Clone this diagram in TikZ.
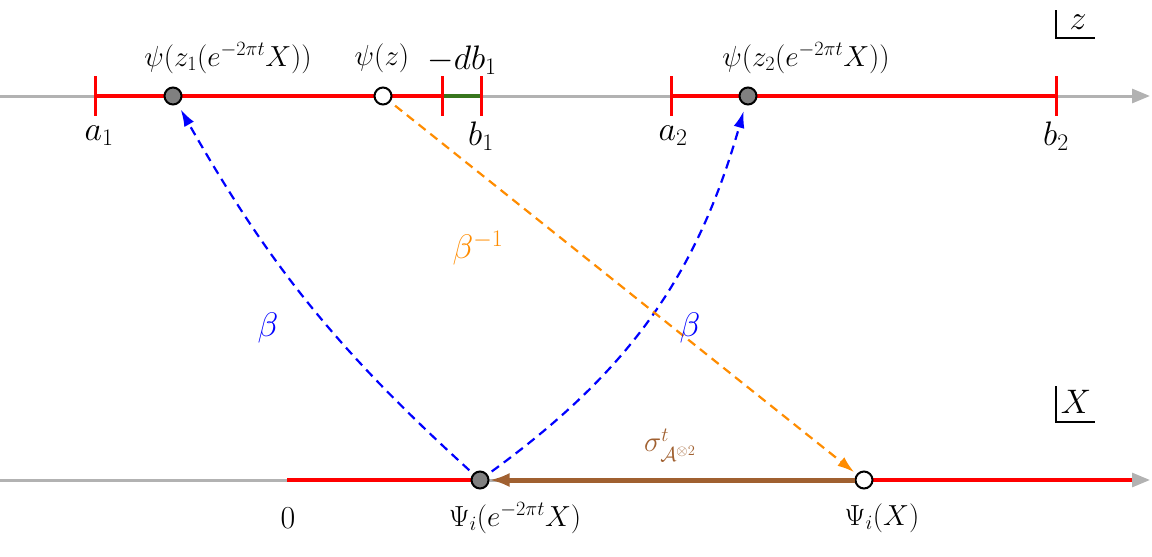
\RequirePackage{fix-cm}
\documentclass[tikz,border=0pt]{standalone}
\usepackage{amsmath,amssymb}
\usetikzlibrary{arrows.meta}
\definecolor{axgray}{RGB}{178,178,178}
\definecolor{segred}{RGB}{255,0,0}
\definecolor{seggreen}{RGB}{56,118,29}
\definecolor{mapblue}{RGB}{0,0,255}
\definecolor{maporange}{RGB}{255,140,0}
\definecolor{mapbrown}{RGB}{160,96,48}
\definecolor{dotgray}{RGB}{128,128,128}
\tikzset{
  axisline/.style={draw=axgray, line width=3pt, -{Triangle[length=18pt,width=14pt]}},
  redseg/.style={draw=segred, line width=4pt},
  greenseg/.style={draw=seggreen, line width=4pt},
  tickmark/.style={draw=segred, line width=3pt},
  filleddot/.style={circle, draw=black, fill=dotgray, line width=2pt, minimum size=17pt, inner sep=0pt},
  opendot/.style={circle, draw=black, fill=white, line width=2pt, minimum size=17pt, inner sep=0pt},
  biglabel/.style={font=\fontsize{34}{40}\selectfont, inner sep=0pt},
  ptlabel/.style={font=\fontsize{29}{34}\selectfont, inner sep=0pt},
  cornerline/.style={draw=black, line width=1.6pt},
  bluemap/.style={draw=mapblue, line width=2.2pt, dash pattern=on 9pt off 6pt, -{Latex[length=17pt,width=11pt]}, shorten <=5pt, shorten >=6pt},
  orangemap/.style={draw=maporange, line width=2.2pt, dash pattern=on 9pt off 6pt, -{Latex[length=17pt,width=11pt]}, shorten <=6pt, shorten >=3pt},
  brownmap/.style={draw=mapbrown, line width=5pt, -{Latex[length=20pt,width=14pt]}},
}
\begin{document}
\begin{tikzpicture}[x=1pt,y=-1pt]
\useasboundingbox (0,0) rectangle (1152,557);
% top axis
\coordinate (tl) at (0,96);
\coordinate (tr) at (1150,96);
\coordinate (a1) at (95,96);
\coordinate (db) at (442,96);
\coordinate (b1) at (481,96);
\coordinate (a2) at (671,96);
\coordinate (b2) at (1056,96);
\coordinate (c1) at (173,96);
\coordinate (cz) at (383,96);
\coordinate (c2) at (748,96);
\draw[axisline] (tl) -- (tr);
\draw[redseg] (a1) -- (db);
\draw[greenseg] (db) -- (b1);
\draw[redseg] (a2) -- (b2);
\foreach \t in {a1,db,b1,a2,b2}{
  \draw[tickmark] ([yshift=20pt]\t) -- ([yshift=-20pt]\t);
}
% bottom axis
\coordinate (bl) at (0,480);
\coordinate (br) at (1150,480);
\coordinate (zero) at (287,480);
\coordinate (d1) at (480,480);
\coordinate (d0) at (864,480);
\coordinate (rend) at (1132,480);
\draw[axisline] (bl) -- (br);
\draw[redseg] (zero) -- (d1);
\draw[redseg] (d0) -- (rend);
% corners
\coordinate (zc) at (1056,38);
\draw[cornerline] (1056,10) -- (zc) -- (1095,38);
\node[biglabel] (zlab) at (1078,22) {$z$};
\coordinate (xc) at (1056,422);
\draw[cornerline] (1056,386) -- (xc) -- (1095,422);
\node[biglabel] (xlab) at (1076,402) {$X$};
% axis labels
\node[biglabel] (la1) at (99,136) {$a_1$};
\node[biglabel] (lb1) at (481,136) {$b_1$};
\node[biglabel] (la2) at (673,136) {$a_2$};
\node[biglabel] (lb2) at (1056,136) {$b_2$};
\node[biglabel] (ldb) at (462,60) {$-db_1$};
\node[ptlabel] (lp1) at (228,58) {$\psi(z_1(e^{-2\pi t}X))$};
\node[ptlabel] (lpz) at (382,58) {$\psi(z)$};
\node[ptlabel] (lp2) at (806,58) {$\psi(z_2(e^{-2\pi t}X))$};
\node[font=\fontsize{32}{36}\selectfont, inner sep=0pt] (l0) at (288,518) {$0$};
\node[ptlabel] (lq1) at (515,518) {$\Psi_i(e^{-2\pi t}X)$};
\node[ptlabel] (lq0) at (882,518) {$\Psi_i(X)$};
% dots
\node[filleddot] (p1) at (c1) {};
\node[opendot] (pz) at (cz) {};
\node[filleddot] (p2) at (c2) {};
\node[filleddot] (q1) at (d1) {};
\node[opendot] (q0) at (d0) {};
% maps
\draw[brownmap] (q0) -- (q1);
\draw[bluemap] (q1) to[bend left=9] (p1);
\draw[bluemap] (q1) to[bend right=19] (p2);
\draw[orangemap] (pz) -- (q0);
\node[biglabel, text=mapblue] (lbl) at (268,328) {$\beta$};
\node[biglabel, text=mapblue] (lbr) at (690,328) {$\beta$};
\node[biglabel, text=maporange] (lbi) at (478,248) {$\beta^{-1}$};
\node[ptlabel, text=mapbrown] (lsig) at (670,445) {$\sigma^{t}_{\mathcal{A}^{\otimes 2}}$};
\end{tikzpicture}
\end{document}
